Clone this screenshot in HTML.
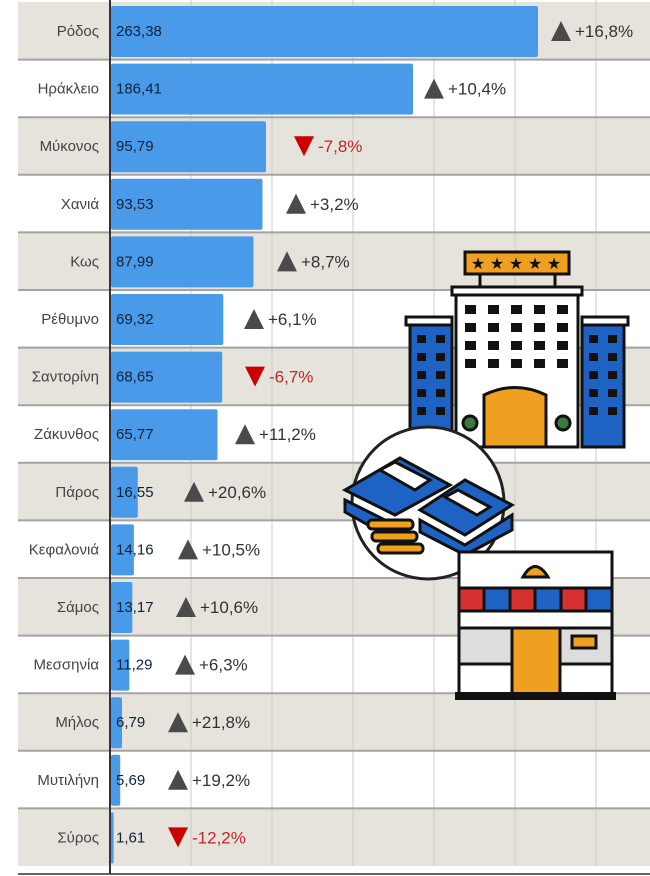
<!DOCTYPE html><html><head><meta charset="utf-8"><style>body{margin:0;background:#fff}svg{display:block}</style></head><body>
<svg width="650" height="876" xmlns="http://www.w3.org/2000/svg" font-family="Liberation Sans, sans-serif">
<rect width="650" height="876" fill="#fff"/>
<g fill="#e6e2dc">
<rect x="18" y="2" width="632" height="57.6"/><rect x="18" y="117.2" width="632" height="57.6"/><rect x="18" y="232.4" width="632" height="57.6"/><rect x="18" y="347.6" width="632" height="57.6"/><rect x="18" y="462.8" width="632" height="57.6"/><rect x="18" y="578" width="632" height="57.6"/><rect x="18" y="693.2" width="632" height="57.6"/><rect x="18" y="808.4" width="632" height="57.6"/>
</g>
<g stroke="#cfcbc5" stroke-width="1"><line x1="191" y1="0" x2="191" y2="866"/><line x1="272" y1="0" x2="272" y2="866"/><line x1="353" y1="0" x2="353" y2="866"/><line x1="434" y1="0" x2="434" y2="866"/><line x1="515" y1="0" x2="515" y2="866"/><line x1="596" y1="0" x2="596" y2="866"/></g>
<g stroke="#a3a3a3" stroke-width="2">
<line x1="18" y1="59.6" x2="650" y2="59.6"/><line x1="18" y1="117.2" x2="650" y2="117.2"/><line x1="18" y1="174.8" x2="650" y2="174.8"/><line x1="18" y1="232.4" x2="650" y2="232.4"/><line x1="18" y1="290" x2="650" y2="290"/><line x1="18" y1="347.6" x2="650" y2="347.6"/><line x1="18" y1="405.2" x2="650" y2="405.2"/><line x1="18" y1="462.8" x2="650" y2="462.8"/><line x1="18" y1="520.4" x2="650" y2="520.4"/><line x1="18" y1="578" x2="650" y2="578"/><line x1="18" y1="635.6" x2="650" y2="635.6"/><line x1="18" y1="693.2" x2="650" y2="693.2"/><line x1="18" y1="750.8" x2="650" y2="750.8"/><line x1="18" y1="808.4" x2="650" y2="808.4"/>
</g>
<line x1="18" y1="874" x2="650" y2="874" stroke="#333" stroke-width="1.5"/>
<g fill="#4a9aea">
<rect x="111" y="6" width="427" height="51" rx="2"/>
<rect x="111" y="63.6" width="302" height="51" rx="2"/>
<rect x="111" y="121.2" width="155" height="51" rx="2"/>
<rect x="111" y="178.8" width="151.5" height="51" rx="2"/>
<rect x="111" y="236.4" width="142.5" height="51" rx="2"/>
<rect x="111" y="294" width="112.3" height="51" rx="2"/>
<rect x="111" y="351.6" width="111.2" height="51" rx="2"/>
<rect x="111" y="409.2" width="106.5" height="51" rx="2"/>
<rect x="111" y="466.8" width="26.8" height="51" rx="2"/>
<rect x="111" y="524.4" width="22.9" height="51" rx="2"/>
<rect x="111" y="582" width="21.3" height="51" rx="2"/>
<rect x="111" y="639.6" width="18.3" height="51" rx="2"/>
<rect x="111" y="697.2" width="11" height="51" rx="2"/>
<rect x="111" y="754.8" width="9.2" height="51" rx="2"/>
<rect x="111" y="812.4" width="2.6" height="51" rx="1"/>
</g>
<line x1="110" y1="0" x2="110" y2="874" stroke="#333" stroke-width="2"/>
<g font-size="15" fill="#444" text-anchor="end">
<text x="99" y="36">Ρόδος</text><text x="99" y="93.6">Ηράκλειο</text><text x="99" y="151.2">Μύκονος</text><text x="99" y="208.8">Χανιά</text><text x="99" y="266.4">Κως</text><text x="99" y="324">Ρέθυμνο</text><text x="99" y="381.6">Σαντορίνη</text><text x="99" y="439.2">Ζάκυνθος</text><text x="99" y="496.8">Πάρος</text><text x="99" y="554.4">Κεφαλονιά</text><text x="99" y="612">Σάμος</text><text x="99" y="669.6">Μεσσηνία</text><text x="99" y="727.2">Μήλος</text><text x="99" y="784.8">Μυτιλήνη</text><text x="99" y="842.4">Σύρος</text>
</g>
<g font-size="15" fill="#10223a">
<text x="116" y="36">263,38</text><text x="116" y="93.6">186,41</text><text x="116" y="151.2">95,79</text><text x="116" y="208.8">93,53</text><text x="116" y="266.4">87,99</text><text x="116" y="324">69,32</text><text x="116" y="381.6">68,65</text><text x="116" y="439.2">65,77</text><text x="116" y="496.8">16,55</text><text x="116" y="554.4">14,16</text><text x="116" y="612">13,17</text><text x="116" y="669.6">11,29</text><text x="116" y="727.2">6,79</text><text x="116" y="784.8">5,69</text><text x="116" y="842.4">1,61</text>
</g>
<g fill="#4a4a4a">
<polygon points="551,41 571,41 561,21"/><polygon points="424,98.6 444,98.6 434,78.6"/><polygon points="286,213.8 306,213.8 296,193.8"/><polygon points="277,271.4 297,271.4 287,251.4"/><polygon points="244,329 264,329 254,309"/><polygon points="235,444.2 255,444.2 245,424.2"/><polygon points="184,501.8 204,501.8 194,481.8"/><polygon points="178,559.4 198,559.4 188,539.4"/><polygon points="176,617 196,617 186,597"/><polygon points="175,674.6 195,674.6 185,654.6"/><polygon points="168,732.2 188,732.2 178,712.2"/><polygon points="168,789.8 188,789.8 178,769.8"/>
</g>
<g fill="#c00">
<polygon points="294,136.2 314,136.2 304,156.2"/><polygon points="245,366.6 265,366.6 255,386.6"/><polygon points="168,827.4 188,827.4 178,847.4"/>
</g>
<g font-size="17" fill="#333">
<text x="575" y="37">+16,8%</text><text x="448" y="94.6">+10,4%</text><text x="310" y="209.8">+3,2%</text><text x="301" y="267.4">+8,7%</text><text x="268" y="325">+6,1%</text><text x="259" y="440.2">+11,2%</text><text x="208" y="497.8">+20,6%</text><text x="202" y="555.4">+10,5%</text><text x="200" y="613">+10,6%</text><text x="199" y="670.6">+6,3%</text><text x="192" y="728.2">+21,8%</text><text x="192" y="785.8">+19,2%</text>
</g>
<g font-size="17" fill="#c0262a">
<text x="318" y="152.2">-7,8%</text><text x="269" y="382.6">-6,7%</text><text x="192" y="843.4">-12,2%</text>
</g>
<!-- hotel -->
<g stroke="#111" stroke-width="3">
<rect x="465" y="252" width="104" height="22" fill="#f0a020"/>
<line x1="480" y1="274" x2="480" y2="287"/><line x1="555" y1="274" x2="555" y2="287"/>
<rect x="452" y="287" width="130" height="8" fill="#fff"/>
<rect x="406" y="317" width="46" height="8" fill="#fff"/><rect x="582" y="317" width="46" height="8" fill="#fff"/>
<rect x="410" y="325" width="42" height="122" fill="#1e63c4"/><rect x="582" y="325" width="42" height="122" fill="#1e63c4"/>
<rect x="456" y="295" width="122" height="152" fill="#fff"/>
<path d="M484 447 V395 Q515 380 546 395 V447 Z" fill="#f0a020"/>
<circle cx="470" cy="423" r="7" fill="#3c7a3c"/><circle cx="563" cy="423" r="7" fill="#3c7a3c"/>
</g>
<g font-size="16" fill="#111" text-anchor="middle"><text x="478" y="269">★</text><text x="497" y="269">★</text><text x="516" y="269">★</text><text x="535" y="269">★</text><text x="554" y="269">★</text></g>
<g fill="#111">
<rect x="465" y="305" width="11" height="9"/><rect x="488" y="305" width="11" height="9"/><rect x="511" y="305" width="11" height="9"/><rect x="534" y="305" width="11" height="9"/><rect x="557" y="305" width="11" height="9"/>
<rect x="465" y="323" width="11" height="9"/><rect x="488" y="323" width="11" height="9"/><rect x="511" y="323" width="11" height="9"/><rect x="534" y="323" width="11" height="9"/><rect x="557" y="323" width="11" height="9"/>
<rect x="465" y="341" width="11" height="9"/><rect x="488" y="341" width="11" height="9"/><rect x="511" y="341" width="11" height="9"/><rect x="534" y="341" width="11" height="9"/><rect x="557" y="341" width="11" height="9"/>
<rect x="465" y="359" width="11" height="9"/><rect x="488" y="359" width="11" height="9"/><rect x="511" y="359" width="11" height="9"/><rect x="534" y="359" width="11" height="9"/><rect x="557" y="359" width="11" height="9"/>
<rect x="417" y="335" width="9" height="8"/><rect x="436" y="335" width="9" height="8"/><rect x="417" y="353" width="9" height="8"/><rect x="436" y="353" width="9" height="8"/><rect x="417" y="371" width="9" height="8"/><rect x="436" y="371" width="9" height="8"/><rect x="417" y="389" width="9" height="8"/><rect x="436" y="389" width="9" height="8"/><rect x="417" y="407" width="9" height="8"/><rect x="436" y="407" width="9" height="8"/>
<rect x="589" y="335" width="9" height="8"/><rect x="608" y="335" width="9" height="8"/><rect x="589" y="353" width="9" height="8"/><rect x="608" y="353" width="9" height="8"/><rect x="589" y="371" width="9" height="8"/><rect x="608" y="371" width="9" height="8"/><rect x="589" y="389" width="9" height="8"/><rect x="608" y="389" width="9" height="8"/><rect x="589" y="407" width="9" height="8"/><rect x="608" y="407" width="9" height="8"/>
</g>
<!-- money circle -->
<circle cx="428" cy="503" r="76" fill="#fff" stroke="#222" stroke-width="3"/>
<g stroke="#111" stroke-width="3">
<polygon points="345,490 400,458 450,485 395,515" fill="#1e63c4"/>
<polygon points="345,500 395,525 395,540 345,512" fill="#1e63c4"/>
<polygon points="420,510 465,480 512,505 465,535" fill="#1e63c4"/>
<polygon points="420,520 465,545 512,515 512,530 465,555 420,532" fill="#1e63c4"/>
<polygon points="380,470 395,462 430,480 415,490" fill="#fff"/>
<polygon points="445,497 458,490 490,507 477,515" fill="#fff"/>
<rect x="368" y="520" width="45" height="9" rx="4" fill="#f0a020"/>
<rect x="372" y="532" width="45" height="9" rx="4" fill="#f0a020"/>
<rect x="378" y="544" width="45" height="9" rx="4" fill="#f0a020"/>
</g>
<!-- restaurant -->
<g stroke="#111" stroke-width="3">
<rect x="459" y="552" width="153" height="142" fill="#fff"/>
<rect x="459" y="588" width="153" height="23" fill="#1e63c4"/>
<rect x="459" y="588" width="25" height="23" fill="#d63030"/><rect x="510" y="588" width="25" height="23" fill="#d63030"/><rect x="561" y="588" width="25" height="23" fill="#d63030"/>
<rect x="459" y="628" width="153" height="36" fill="#ddd"/>
<rect x="512" y="628" width="48" height="66" fill="#f0a020"/>
<path d="M523 577 Q535 556 548 577 Z" fill="#f0a020"/>
<rect x="572" y="636" width="24" height="12" fill="#f0a020"/>
</g>
<rect x="455" y="692" width="161" height="8" fill="#111"/>
</svg>
</body></html>
